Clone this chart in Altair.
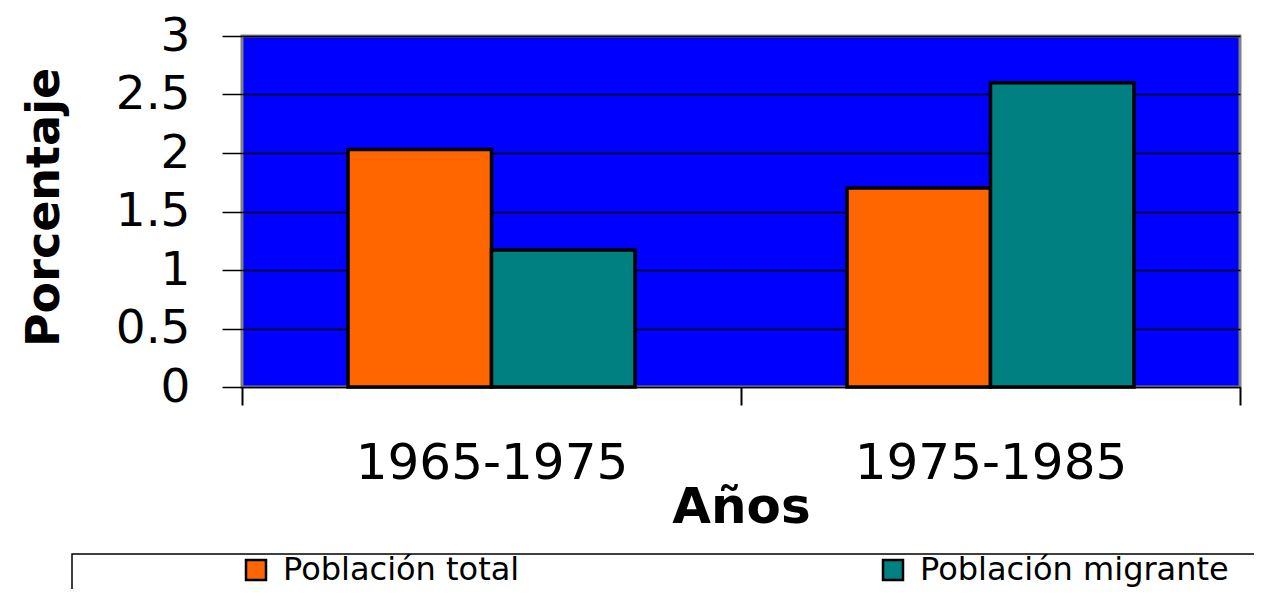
import altair as alt
import pandas as pd

periods = ["1965-1975", "1975-1985"]
series = ["Población total", "Población migrante"]
poblacion_total = [2.03, 1.70]
poblacion_migrante = [1.17, 2.60]
y_ticks = [0, 0.5, 1, 1.5, 2, 2.5, 3]
colors = ["#FF6600", "#008080"]

rows = []
for i, p in enumerate(periods):
    rows.append({"Periodo": p, "Serie": series[0], "Valor": poblacion_total[i]})
    rows.append({"Periodo": p, "Serie": series[1], "Valor": poblacion_migrante[i]})
df = pd.DataFrame(rows)

FONT = "DejaVu Sans"

bars = alt.Chart(df).mark_bar(stroke="black", strokeWidth=3.5).encode(
    x=alt.X(
        "Periodo:N",
        sort=periods,
        scale=alt.Scale(paddingInner=0, paddingOuter=0),
        axis=alt.Axis(
            title="Años",
            labelAngle=0,
            labelFontSize=50,
            labelFont=FONT,
            labelColor="black",
            labelPadding=33,
            labelLimit=1000,
            tickSize=18,
            tickColor="black",
            tickWidth=2,
            tickBand="extent",
            domainColor="black",
            domainWidth=1,
            titleFont=FONT,
            titleFontSize=50,
            titleFontWeight="bold",
            titleColor="black",
            titleX=499,
            titleY=135,
            titleBaseline="alphabetic",
            titleAlign="center",
        ),
    ),
    xOffset=alt.XOffset(
        "Serie:N", sort=series, scale=alt.Scale(paddingInner=0, paddingOuter=0.739)
    ),
    y=alt.Y(
        "Valor:Q",
        scale=alt.Scale(domain=[0, 3], nice=False),
        axis=alt.Axis(
            title="Porcentaje",
            values=y_ticks,
            format="~g",
            labelFontSize=47,
            labelFont=FONT,
            labelColor="black",
            labelPadding=32,
            tickSize=20,
            tickColor="black",
            tickWidth=1.5,
            domain=False,
            grid=True,
            gridColor="black",
            gridWidth=1.5,
            titleFont=FONT,
            titleFontSize=46,
            titleFontWeight="bold",
            titleColor="black",
            titleAngle=270,
            titleX=-184,
            titleY=171,
            titleBaseline="alphabetic",
            titleAlign="center",
        ),
    ),
    color=alt.Color(
        "Serie:N",
        sort=series,
        scale=alt.Scale(domain=series, range=colors),
        legend=alt.Legend(
            title=None,
            orient="none",
            legendX=-2,
            legendY=518,
            direction="horizontal",
            columns=2,
            columnPadding=357,
            symbolType="square",
            symbolSize=400,
            symbolStrokeColor="black",
            symbolStrokeWidth=2.5,
            symbolOpacity=1,
            labelFont=FONT,
            labelFontSize=32,
            labelColor="black",
            labelOffset=11,
            labelLimit=1000,
            padding=0,
        ),
    ),
)

frame = alt.Chart(alt.Data(values=[{"k": 1}])).mark_rect(
    fill=None, stroke="black", strokeWidth=1.5
).encode(
    x=alt.value(-170), x2=alt.value(1100), y=alt.value(518), y2=alt.value(620)
)

chart = alt.layer(bars, frame).properties(
    width=998,
    height=351,
    autosize=alt.AutoSizeParams(type="none"),
    padding={"left": 234, "top": 28, "right": 14, "bottom": 202},
    background="white",
).configure_view(
    fill="#0000FF", stroke="#808080", strokeWidth=3
)

chart.save("out.html", embed_options={"renderer": "svg", "actions": False})
